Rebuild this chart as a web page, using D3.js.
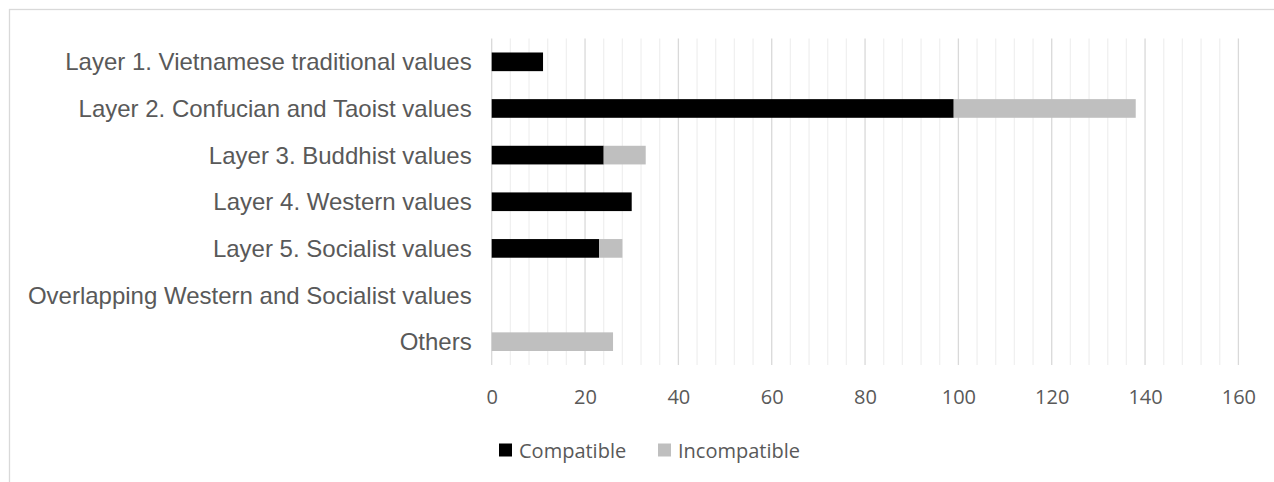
<!DOCTYPE html>
<html>
<head>
<meta charset="utf-8">
<script src="https://cdn.jsdelivr.net/npm/d3@7"></script>
<style>
  html, body { margin: 0; padding: 0; background: #ffffff; }
  svg { display: block; }
</style>
</head>
<body>
<svg id="chart" width="1274" height="482"></svg>
<script>
// Value layers and counts of compatible / incompatible items
const categories = [
  "Layer 1. Vietnamese traditional values",
  "Layer 2. Confucian and Taoist values",
  "Layer 3. Buddhist values",
  "Layer 4. Western values",
  "Layer 5. Socialist values",
  "Overlapping Western and Socialist values",
  "Others"
];
const compatible   = [11, 99, 24, 30, 23, 0, 0];
const incompatible = [0, 39, 9, 0, 5, 0, 26];
const seriesNames  = ["Compatible", "Incompatible"];
const seriesColors = ["#000000", "#bfbfbf"];
const xTicks = [0, 20, 40, 60, 80, 100, 120, 140, 160];

const svg = d3.select("#chart");
const W = 1274, H = 482;

// outer chart frame
svg.append("rect")
  .attr("x", 9.5).attr("y", 9.5)
  .attr("width", W + 20).attr("height", H + 20)
  .attr("fill", "#ffffff")
  .attr("stroke", "#d9d9d9").attr("stroke-width", 1.3);

const plot = { left: 491.7, right: 1238.4, top: 38.5, bottom: 365 };

const x = d3.scaleLinear().domain([0, 160]).range([plot.left, plot.right]);
const y = d3.scaleBand().domain(categories)
  .range([plot.top, plot.bottom])
  .paddingInner(0.6).paddingOuter(0.3);

// minor gridlines every 4
const minor = d3.range(0, 161, 4).filter(v => v % 20 !== 0);
svg.append("g").selectAll("line").data(minor).join("line")
  .attr("x1", d => x(d)).attr("x2", d => x(d))
  .attr("y1", plot.top).attr("y2", plot.bottom)
  .attr("stroke", "#f0f0f0").attr("stroke-width", 1.3);

// major gridlines every 20
svg.append("g").selectAll("line").data(xTicks).join("line")
  .attr("x1", d => x(d)).attr("x2", d => x(d))
  .attr("y1", plot.top).attr("y2", plot.bottom)
  .attr("stroke", "#d9d9d9").attr("stroke-width", 1.3);

// stacked bars
const rows = categories.map((c, i) => ({ cat: c, Compatible: compatible[i], Incompatible: incompatible[i] }));
const stacked = d3.stack().keys(seriesNames)(rows);

svg.append("g").selectAll("g").data(stacked).join("g")
  .attr("fill", (d, i) => seriesColors[i])
  .selectAll("rect").data(d => d).join("rect")
  .attr("x", d => x(d[0]))
  .attr("width", d => x(d[1]) - x(d[0]))
  .attr("y", d => y(d.data.cat))
  .attr("height", y.bandwidth());

// category labels
svg.append("g").selectAll("text").data(categories).join("text")
  .attr("x", plot.left - 20)
  .attr("y", d => y(d) + y.bandwidth() / 2)
  .attr("text-anchor", "end")
  .attr("dominant-baseline", "central")
  .attr("font-family", "'Liberation Sans', Arial, sans-serif")
  .attr("font-size", 24)
  .attr("fill", "#595959")
  .text(d => d);

// x axis tick labels
const xAxis = d3.axisBottom(x).tickValues(xTicks).tickSize(0).tickPadding(0);
const gx = svg.append("g").attr("transform", `translate(0, ${plot.bottom + 32})`).call(xAxis);
gx.select(".domain").remove();
gx.selectAll("text")
  .attr("dy", "0.35em")
  .attr("font-family", "'Open Sans', sans-serif")
  .attr("font-size", 20)
  .attr("fill", "#595959");

// legend
const legendItems = [
  { name: seriesNames[0], color: seriesColors[0], x: 499 },
  { name: seriesNames[1], color: seriesColors[1], x: 658 }
];
const lg = svg.append("g").selectAll("g").data(legendItems).join("g")
  .attr("transform", d => `translate(${d.x}, 450)`);
lg.append("rect")
  .attr("x", 0).attr("y", -6.5).attr("width", 13).attr("height", 13)
  .attr("fill", d => d.color);
lg.append("text")
  .attr("x", 20).attr("y", 0)
  .attr("dominant-baseline", "central")
  .attr("font-family", "'Open Sans', sans-serif")
  .attr("font-size", 20)
  .attr("fill", "#595959")
  .text(d => d.name);
</script>
</body>
</html>
